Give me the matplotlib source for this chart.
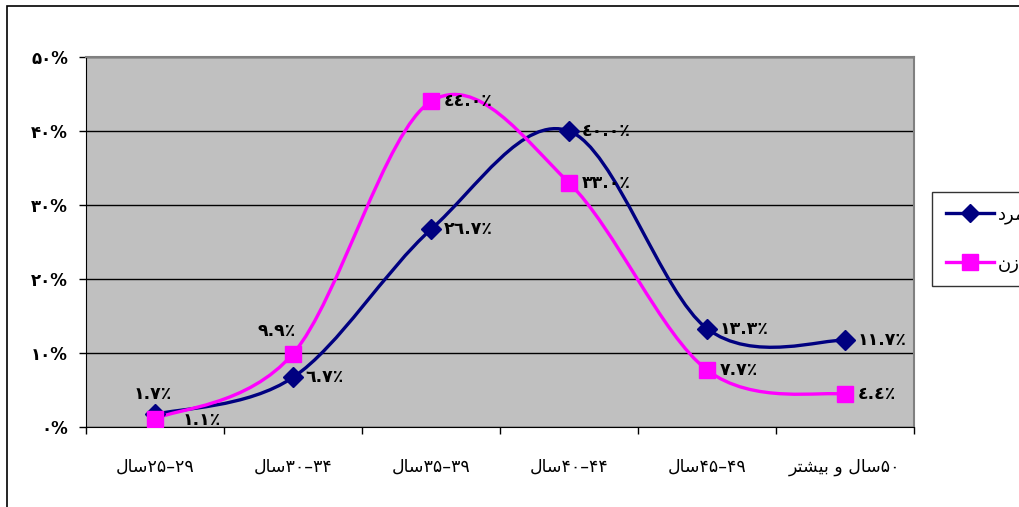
import matplotlib.pyplot as plt
from matplotlib.path import Path
from matplotlib.patches import PathPatch, Rectangle
from matplotlib.lines import Line2D

# Persian words, written in visual order with presentation forms
SAL = "\uFEDD\uFE8E\uFEB3"                      # سال
VA = "\uFEED"                                    # و
BISHTAR = "\uFEAE\uFE98\uFEB8\uFEF4\uFE91"       # بیشتر
MARD = "\uFEA9\uFEAE\uFEE3"                      # مرد
ZAN = "\uFEE5\uFEAF"                             # زن

FA = "۰۱۲۳۴۵۶۷۸۹"
AR = "٠١٢٣٤٥٦٧٨٩"


def fa_num(s):
    return "".join(FA[int(c)] if c.isdigit() else c for c in str(s))


def ar_num(s):
    return "".join(AR[int(c)] if c.isdigit() else c for c in str(s))


# data
categories = [SAL + fa_num("25–29"), SAL + fa_num("30–34"), SAL + fa_num("35–39"),
              SAL + fa_num("40–44"), SAL + fa_num("45–49"),
              BISHTAR + " " + VA + " " + SAL + fa_num("50")]
men = [1.7, 6.7, 26.7, 40.0, 13.3, 11.7]
women = [1.1, 9.9, 44.0, 33.0, 7.7, 4.4]
yticks = [0, 10, 20, 30, 40, 50]

NAVY = "#000080"
MAGENTA = "#FF00FF"


# Excel-like smoothed line (bezier through the points)
def smooth_path(xs, ys):
    pts = list(zip(xs, ys))
    verts = [pts[0]]
    codes = [Path.MOVETO]
    n = len(pts)
    for i in range(n - 1):
        p0 = pts[i - 1] if i > 0 else pts[i]
        p1 = pts[i]
        p2 = pts[i + 1]
        p3 = pts[i + 2] if i + 2 < n else pts[i + 1]
        c1 = (p1[0] + (p2[0] - p0[0]) / 6, p1[1] + (p2[1] - p0[1]) / 6)
        c2 = (p2[0] - (p3[0] - p1[0]) / 6, p2[1] - (p3[1] - p1[1]) / 6)
        verts += [c1, c2, p2]
        codes += [Path.CURVE4] * 3
    return Path(verts, codes)


plt.rcParams['font.family'] = ['DejaVu Sans']

fig = plt.figure(figsize=(10.2, 5.07), dpi=100)
ax = fig.add_axes([86 / 1020, 80 / 507, 828 / 1020, 370 / 507])
ax.set_facecolor("#C0C0C0")

# outer chart border
fig.add_artist(Rectangle((7 / 1020, -0.05), 1.2, 1 - 6 / 507 + 0.05,
                         transform=fig.transFigure, fill=False,
                         edgecolor="black", lw=1.2))

x = list(range(len(categories)))
ax.set_xlim(-0.5, len(categories) - 0.5)
ax.set_ylim(0, 50)

for vals, color, marker, ms in [(men, NAVY, "D", 10.5), (women, MAGENTA, "s", 12)]:
    ax.add_patch(PathPatch(smooth_path(x, vals), fill=False, edgecolor=color,
                           lw=2.4, zorder=3, capstyle="round"))
    ax.plot(x, vals, linestyle="none", marker=marker, color=color, ms=ms,
            zorder=4)

# data labels
lab_kw = dict(fontsize=12.5, fontweight="bold", zorder=5)
for i, v in enumerate(men):
    s = ar_num(f"{v:.1f}") + "٪"
    if i == 0:
        ax.annotate(s, (i, v), xytext=(-2, 8), textcoords="offset points",
                    ha="center", va="bottom", **lab_kw)
    else:
        ax.annotate(s, (i, v), xytext=(9, 0), textcoords="offset points",
                    ha="left", va="center", **lab_kw)
for i, v in enumerate(women):
    s = ar_num(f"{v:.1f}") + "٪"
    if i == 0:
        ax.annotate(s, (i, v), xytext=(20, -1), textcoords="offset points",
                    ha="left", va="center", **lab_kw)
    elif i == 1:
        ax.annotate(s, (i, v), xytext=(-12, 10), textcoords="offset points",
                    ha="center", va="bottom", **lab_kw)
    else:
        ax.annotate(s, (i, v), xytext=(9, 0), textcoords="offset points",
                    ha="left", va="center", **lab_kw)

# axes
ax.set_yticks(yticks)
ax.set_yticklabels([fa_num(t) + "%" for t in yticks], fontsize=12,
                   fontweight="bold")
ax.yaxis.grid(True, color="black", lw=1)
ax.set_axisbelow(True)
ax.set_xticks([i - 0.5 for i in range(len(categories) + 1)], minor=False)
ax.set_xticklabels([])
ax.set_xticks(x, minor=True)
ax.set_xticklabels(categories, minor=True, fontsize=12.5)
ax.tick_params(axis="x", which="minor", length=0, pad=22)
ax.tick_params(axis="x", which="major", length=5, width=1, direction="out")
ax.tick_params(axis="y", length=5, width=1, direction="out", pad=8)
for side in ["top", "right"]:
    ax.spines[side].set_color("#808080")
    ax.spines[side].set_linewidth(1.5)
ax.spines["left"].set_color("black")
ax.spines["bottom"].set_color("black")

handles = [Line2D([], [], color=NAVY, lw=2.4, marker="D", ms=9),
           Line2D([], [], color=MAGENTA, lw=2.4, marker="s", ms=11)]
leg = fig.legend(handles, [MARD, ZAN], loc="upper left",
                 bbox_to_anchor=(932 / 1020, 1 - 192 / 507), fontsize=13,
                 frameon=True, fancybox=False, edgecolor="black",
                 handlelength=2.7, labelspacing=1.7, borderpad=0.75,
                 handletextpad=0.2, borderaxespad=0)
leg.get_frame().set_linewidth(1)

fig.savefig("out.png", dpi=100, facecolor="white")
